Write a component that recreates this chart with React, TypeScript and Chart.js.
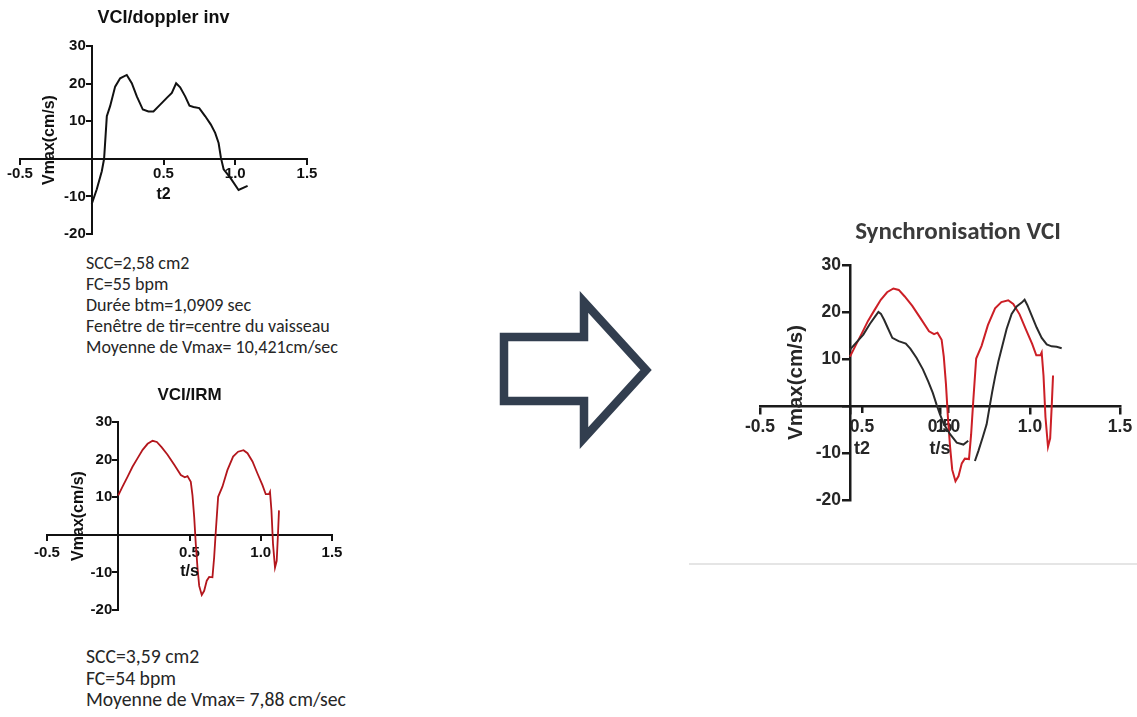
import React, { useEffect, useRef } from "react";
import { Chart, registerables } from "chart.js";

Chart.register(...registerables);

// ---------- data ----------
const xTickValues = [-0.5, 0, 0.5, 1.0, 1.5];
const yTickValues = [-20, -10, 0, 10, 20, 30];

// VCI / doppler inv (top-left)
const dopplerT = [0, 0.035, 0.07, 0.086, 0.105, 0.128, 0.163, 0.198, 0.244, 0.279, 0.314, 0.356, 0.395, 0.43, 0.477, 0.523, 0.558, 0.588, 0.616, 0.651, 0.681, 0.709, 0.749, 0.791, 0.83, 0.86, 0.884, 0.9, 0.919, 0.965, 1.023, 1.086];
const dopplerV = [-12, -8.1, -3.3, 0, 11.3, 14, 19.2, 21.4, 22.3, 20.1, 16.6, 13.1, 12.6, 12.6, 14.4, 16.2, 17.5, 20.1, 19, 16.6, 14.1, 13.8, 13.5, 11.3, 9.1, 6.9, 4.2, 0.3, -2.8, -5, -8.3, -7.2];

// VCI / IRM (bottom-left and synchronisation)
const irmT = [0, 0.03, 0.065, 0.1, 0.136, 0.171, 0.206, 0.241, 0.271, 0.304, 0.346, 0.393, 0.439, 0.467, 0.486, 0.509, 0.521, 0.533, 0.544, 0.556, 0.568, 0.586, 0.603, 0.621, 0.638, 0.661, 0.673, 0.685, 0.701, 0.731, 0.766, 0.806, 0.841, 0.879, 0.907, 0.942, 0.977, 1.012, 1.035, 1.058, 1.065, 1.075, 1.086, 1.1, 1.112, 1.121, 1.128];
const irmV = [10.5, 12.8, 15.4, 18.1, 20.4, 22.6, 24.2, 25, 24.7, 23.3, 21.3, 18.6, 15.9, 15.3, 15.6, 14.1, 10.5, 4.7, -2.4, -8.7, -13.6, -16, -14.9, -12.2, -11.2, -11.3, -6, 1.2, 10.1, 12.8, 17.2, 20.8, 22.1, 22.5, 21.7, 19.5, 16.3, 13.2, 10.8, 10.8, 11.4, 6.5, -2.4, -8.7, -6.9, 0.3, 6.5];

// Doppler curve as placed in the synchronisation chart (null = break)
const syncDopplerT = [0, 0.037, 0.074, 0.111, 0.139, 0.158, 0.172, 0.19, 0.21, 0.235, 0.27, 0.31, 0.335, 0.37, 0.405, 0.435, 0.46, 0.481, 0.5, 0.522, 0.556, 0.593, 0.63, 0.657, 0.675, 0.694, 0.713, 0.737, 0.759, 0.775, 0.79, 0.806, 0.825, 0.845, 0.87, 0.898, 0.926, 0.954, 0.97, 0.985, 1.009, 1.037, 1.065, 1.093, 1.12, 1.148, 1.176];
const syncDopplerV = [12, 13.6, 15.2, 17.5, 19, 20, 19.6, 18.3, 16.6, 14.5, 13.8, 13.3, 12.2, 10.2, 7.8, 5.2, 2.8, 0.3, -1.8, -3.9, -6, -7.8, -8.2, -7.4, null, -11.7, -9.6, -6.7, -3.9, -0.3, 3, 6.2, 9.6, 12.6, 16.4, 19.6, 21.2, 22, 22.6, 21.5, 19.3, 16.7, 14.5, 13.1, 12.7, 12.6, 12.3];

// secondary (doppler) x tick labels visible in the synchronisation chart
const syncDopplerTicks = [0.5, 1.0];

const textBlock1 = [
  "SCC=2,58 cm2",
  "FC=55 bpm",
  "Durée btm=1,0909 sec",
  "Fenêtre de tir=centre du vaisseau",
  "Moyenne de Vmax= 10,421cm/sec",
];
const textBlock2 = ["SCC=3,59 cm2", "FC=54 bpm", "Moyenne de Vmax= 7,88 cm/sec"];

// ---------- helpers ----------
const FONT = "'Liberation Sans', Arial, sans-serif";
const SLIDE_FONT = "Carlito, Lato, 'Open Sans', sans-serif";

const toPoints = (t: number[], v: (number | null)[]) => t.map((x, i) => ({ x, y: v[i] }));

const titlesPlugin = {
  id: "axisTitles",
  afterDraw(chart: any, _args: any, o: any) {
    const ctx = chart.ctx;
    const xs = chart.scales.x;
    const ys = chart.scales.y;
    const x0 = xs.getPixelForValue(0);
    const y0 = ys.getPixelForValue(0);
    ctx.save();
    ctx.fillStyle = o.color;

    // y tick labels (left of the crossing axis)
    ctx.font = `bold ${o.tickFont}px ${FONT}`;
    ctx.textAlign = "right";
    ctx.textBaseline = "middle";
    for (const v of yTickValues) {
      if (v === 0) continue;
      ctx.fillText(String(v), x0 - o.tickLen - o.yTickPad, ys.getPixelForValue(v));
    }

    ctx.textAlign = "center";
    if (o.title) {
      ctx.font = `bold ${o.titleFont}px ${FONT}`;
      ctx.fillText(o.title, xs.getPixelForValue(0.5), chart.chartArea.top - o.titleGap);
    }
    ctx.save();
    ctx.font = `bold ${o.yTitleFont}px ${FONT}`;
    ctx.translate(x0 + o.yTitleDx, ys.getPixelForValue(5));
    ctx.rotate(-Math.PI / 2);
    ctx.fillText(o.yTitle, 0, 0);
    ctx.restore();
    for (const t of o.xTitles) {
      ctx.font = `bold ${t.font}px ${FONT}`;
      ctx.fillText(t.text, chart.scales[t.scale].getPixelForValue(t.value), y0 + t.dy);
    }
    ctx.restore();
  },
};

function buildConfig(s: any) {
  const tickFont = { family: FONT, size: s.tickFont, weight: "bold" as const };
  const scales: any = {
    x: {
      type: "linear",
      axis: "x",
      min: -0.5,
      max: 1.5,
      position: { y: 0 },
      afterBuildTicks: (sc: any) => {
        sc.ticks = xTickValues.map((v) => ({ value: v }));
      },
      afterFit: (sc: any) => {
        sc.height = 0;
      },
      ticks: {
        autoSkip: false,
        maxRotation: 0,
        minRotation: 0,
        padding: s.xTickPad,
        color: s.textColor,
        font: tickFont,
        callback: (v: any) => (Number(v) === 0 ? "" : Number(v).toFixed(1)),
      },
      grid: { drawOnChartArea: false, drawTicks: true, tickLength: s.tickLen, color: s.axisColor, lineWidth: s.axisWidth },
      border: { display: true, color: s.axisColor, width: s.axisWidth },
    },
    y: {
      type: "linear",
      axis: "y",
      min: -20,
      max: 30,
      position: { x: 0 },
      afterBuildTicks: (sc: any) => {
        sc.ticks = yTickValues.map((v) => ({ value: v }));
      },
      afterFit: (sc: any) => {
        sc.width = 0;
      },
      ticks: { display: false, autoSkip: false },
      grid: { drawOnChartArea: false, drawTicks: true, tickLength: s.tickLen, color: s.axisColor, lineWidth: s.axisWidth },
      border: { display: true, color: s.axisColor, width: s.axisWidth },
    },
  };
  if (s.extraX) {
    scales.x2 = {
      type: "linear",
      axis: "x",
      min: s.extraX.min,
      max: s.extraX.max,
      position: { y: 0 },
      afterBuildTicks: (sc: any) => {
        sc.ticks = s.extraX.ticks.map((v: number) => ({ value: v }));
      },
      afterFit: (sc: any) => {
        sc.height = 0;
      },
      ticks: {
        autoSkip: false,
        maxRotation: 0,
        minRotation: 0,
        padding: s.xTickPad,
        color: s.textColor,
        font: tickFont,
        callback: (v: any) => Number(v).toFixed(1),
      },
      grid: { drawOnChartArea: false, drawTicks: true, tickLength: s.tickLen, color: s.axisColor, lineWidth: s.axisWidth },
      border: { display: false },
    };
  }
  return {
    type: "line",
    data: {
      datasets: s.datasets.map((d: any) => ({
        data: d.data,
        borderColor: d.color,
        backgroundColor: d.color,
        borderWidth: d.width,
        pointRadius: 0,
        tension: 0,
        fill: false,
        spanGaps: false,
        xAxisID: "x",
        yAxisID: "y",
      })),
    },
    options: {
      animation: false,
      responsive: false,
      maintainAspectRatio: false,
      devicePixelRatio: 1,
      layout: { padding: s.padding },
      scales,
      plugins: {
        legend: { display: false },
        tooltip: { enabled: false },
        title: { display: false },
        axisTitles: { ...s.titles, tickFont: s.tickFont, tickLen: s.tickLen, yTickPad: s.yTickPad },
      },
    },
    plugins: [titlesPlugin],
  };
}

function Plot({ spec }: { spec: any }) {
  const ref = useRef<HTMLCanvasElement>(null);
  useEffect(() => {
    const chart = new Chart(ref.current as HTMLCanvasElement, buildConfig(spec) as any);
    return () => chart.destroy();
  }, []);
  return (
    <canvas
      ref={ref}
      width={spec.width}
      height={spec.height}
      style={{ position: "absolute", left: spec.left, top: spec.top, width: spec.width, height: spec.height }}
    />
  );
}

const dopplerSpec = {
  left: 0,
  top: 0,
  width: 330,
  height: 250,
  padding: { left: 20, right: 23, top: 46, bottom: 16 },
  tickFont: 15,
  tickLen: 5,
  xTickPad: 1,
  yTickPad: 1,
  axisWidth: 2,
  axisColor: "#111111",
  textColor: "#111111",
  datasets: [{ data: toPoints(dopplerT, dopplerV), color: "#111111", width: 2 }],
  titles: {
    color: "#111111",
    title: "VCI/doppler inv",
    titleFont: 18,
    titleGap: 28,
    yTitle: "Vmax(cm/s)",
    yTitleFont: 16,
    yTitleDx: -42,
    xTitles: [{ text: "t2", scale: "x", value: 0.5, dy: 36, font: 16 }],
  },
};

const irmSpec = {
  left: 0,
  top: 370,
  width: 350,
  height: 250,
  padding: { left: 47, right: 18, top: 52, bottom: 10 },
  tickFont: 15,
  tickLen: 5,
  xTickPad: 4,
  yTickPad: 1,
  axisWidth: 2,
  axisColor: "#111111",
  textColor: "#111111",
  datasets: [{ data: toPoints(irmT, irmV), color: "#b3161c", width: 1.8 }],
  titles: {
    color: "#111111",
    title: "VCI/IRM",
    titleFont: 17,
    titleGap: 27,
    yTitle: "Vmax(cm/s)",
    yTitleFont: 16,
    yTitleDx: -40,
    xTitles: [{ text: "t/s", scale: "x", value: 0.5, dy: 37, font: 16 }],
  },
};

const syncSpec = {
  left: 740,
  top: 250,
  width: 397,
  height: 262,
  padding: { left: 20, right: 17, top: 15, bottom: 12 },
  tickFont: 17.5,
  tickLen: 7,
  xTickPad: 4,
  yTickPad: 2,
  axisWidth: 2.5,
  axisColor: "#1a1a1a",
  textColor: "#262626",
  extraX: { min: -0.093, max: 2.0, ticks: syncDopplerTicks },
  datasets: [
    { data: toPoints(syncDopplerT, syncDopplerV), color: "#2a2a2a", width: 2 },
    { data: toPoints(irmT, irmV), color: "#cc1f26", width: 2 },
  ],
  titles: {
    color: "#262626",
    title: "",
    titleFont: 17,
    titleGap: 0,
    yTitle: "Vmax(cm/s)",
    yTitleFont: 20.5,
    yTitleDx: -54,
    xTitles: [
      { text: "t2", scale: "x2", value: 0.5, dy: 43, font: 18 },
      { text: "t/s", scale: "x", value: 0.5, dy: 43, font: 18 },
    ],
  },
};

export default function App() {
  return (
    <div
      style={{
        position: "absolute",
        left: 0,
        top: 0,
        width: 1137,
        height: 717,
        background: "#ffffff",
        overflow: "hidden",
      }}
    >
      <Plot spec={dopplerSpec} />
      <div
        style={{
          position: "absolute",
          left: 86,
          top: 252.5,
          fontFamily: SLIDE_FONT,
          fontSize: 18,
          lineHeight: "21px",
          color: "#262626",
          whiteSpace: "nowrap",
        }}
      >
        {textBlock1.map((l) => (
          <div key={l}>{l}</div>
        ))}
      </div>
      <Plot spec={irmSpec} />
      <div
        style={{
          position: "absolute",
          left: 86,
          top: 645.8,
          fontFamily: SLIDE_FONT,
          fontSize: 19.7,
          lineHeight: "21.7px",
          color: "#262626",
          whiteSpace: "nowrap",
        }}
      >
        {textBlock2.map((l) => (
          <div key={l}>{l}</div>
        ))}
      </div>
      <svg style={{ position: "absolute", left: 0, top: 0 }} width={1137} height={717}>
        <path
          d="M504 337 L584 337 L584 302 L646 370 L584 438 L584 401 L504 401 Z"
          fill="#ffffff"
          stroke="#323e4f"
          strokeWidth={8.5}
          strokeLinejoin="miter"
          strokeMiterlimit={10}
        />
        <line x1={689} y1={564} x2={1137} y2={564} stroke="#dcdcdc" strokeWidth={1.5} />
      </svg>
      <div
        style={{
          position: "absolute",
          left: 808,
          width: 300,
          top: 217,
          textAlign: "center",
          fontFamily: SLIDE_FONT,
          fontWeight: 700,
          fontSize: 25,
          lineHeight: "28px",
          color: "#3a3a3a",
          whiteSpace: "nowrap",
        }}
      >
        Synchronisation VCI
      </div>
      <Plot spec={syncSpec} />
    </div>
  );
}
